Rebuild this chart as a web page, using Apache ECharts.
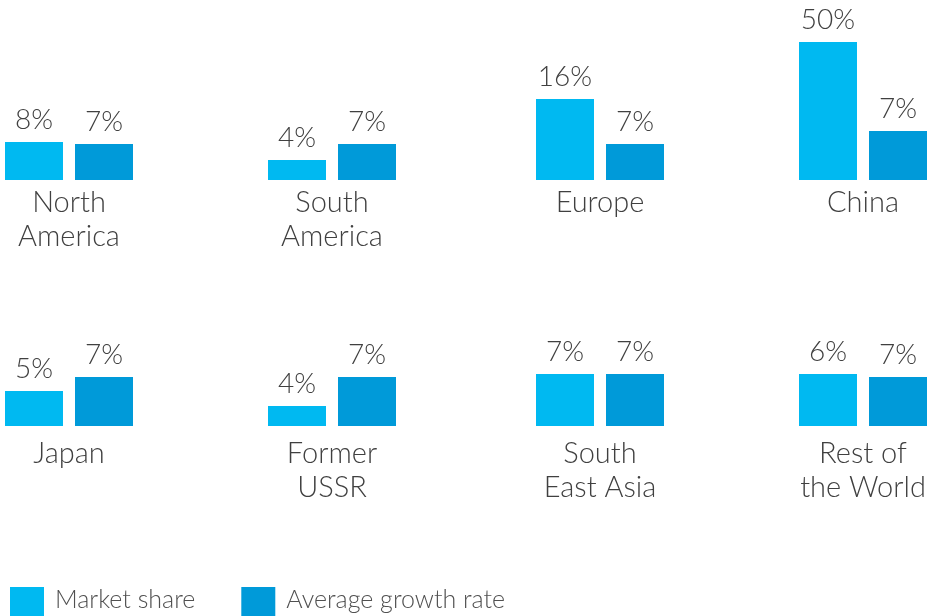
<!DOCTYPE html>
<html>
<head>
<meta charset="utf-8">
<script src="https://cdn.jsdelivr.net/npm/echarts@6/dist/echarts.min.js"></script>
<style>html,body{margin:0;padding:0;background:#fff}#c{width:933px;height:616px}</style>
</head>
<body>
<div id="c"></div>
<script>
// ---- data ----
const categories = ['North\nAmerica', 'South\nAmerica', 'Europe', 'China', 'Japan', 'Former\nUSSR', 'South\nEast Asia', 'Rest of\nthe World'];
const marketShare = [8, 4, 16, 50, 5, 4, 7, 6];
const growthRate = [7, 7, 7, 7, 7, 7, 7, 7];
const seriesNames = ['Market share', 'Average growth rate'];

// ---- layout (scale maxima per panel, as in the infographic) ----
const panelLeft = [5, 268, 536, 799, 5, 268, 536, 799];
const panelTop = [20, 20, 20, 20, 266, 266, 266, 266];
const labelMargin = [6, 6, 6, 6, 11, 11, 11, 11];
const msAxisMax = [33.7, 32, 31.6, 58, 22.9, 32, 21.5, 18.5];
const grAxisMax = [31.1, 31.1, 31.1, 22.9, 22.9, 22.9, 21.5, 22.9];

const colors = ['#00B9F1', '#009AD9'];
const font = 'Lato, "Noto Sans", sans-serif';
const textColor = '#404040';

const grid = [], xAxis = [], yAxis = [], series = [];
categories.forEach((cat, i) => {
  grid.push({ left: panelLeft[i], top: panelTop[i], width: 128, height: 160 });
  xAxis.push({
    type: 'category', gridIndex: i, data: [cat],
    axisLine: { show: false }, axisTick: { show: false },
    axisLabel: { color: textColor, fontFamily: font, fontWeight: 300, fontSize: 29, lineHeight: 34, margin: labelMargin[i], interval: 0 }
  });
  yAxis.push({ type: 'value', gridIndex: i, min: 0, max: msAxisMax[i], show: false, splitLine: { show: false } });
  yAxis.push({ type: 'value', gridIndex: i, min: 0, max: grAxisMax[i], show: false, splitLine: { show: false } });
  const lbl = { show: true, position: 'top', distance: 8, formatter: '{c}%', color: textColor, fontFamily: font, fontWeight: 300, fontSize: 28 };
  series.push({
    name: seriesNames[0], type: 'bar', xAxisIndex: i, yAxisIndex: 2 * i,
    data: [marketShare[i]], barWidth: 58, barGap: '20.7%', itemStyle: { color: colors[0] }, label: lbl,
    emphasis: { disabled: true }
  });
  series.push({
    name: seriesNames[1], type: 'bar', xAxisIndex: i, yAxisIndex: 2 * i + 1,
    data: [growthRate[i]], barWidth: 58, barGap: '20.7%', itemStyle: { color: colors[1] }, label: lbl,
    emphasis: { disabled: true }
  });
});

const chart = echarts.init(document.getElementById('c'));
chart.setOption({
  animation: false,
  textStyle: { fontFamily: font },
  legend: {
    data: seriesNames, left: 5, top: 582, itemWidth: 34, itemHeight: 34, itemGap: 46,
    icon: 'rect',
    formatter: '{t|{name}}',
    textStyle: {
      color: '#505050', fontFamily: font, fontWeight: 300, fontSize: 25, padding: [0, 0, 0, 6],
      rich: { t: { color: '#505050', fontFamily: font, fontWeight: 300, fontSize: 25, padding: [0, 0, 8, 0] } }
    }
  },
  grid, xAxis, yAxis, series
});
</script>
</body>
</html>
